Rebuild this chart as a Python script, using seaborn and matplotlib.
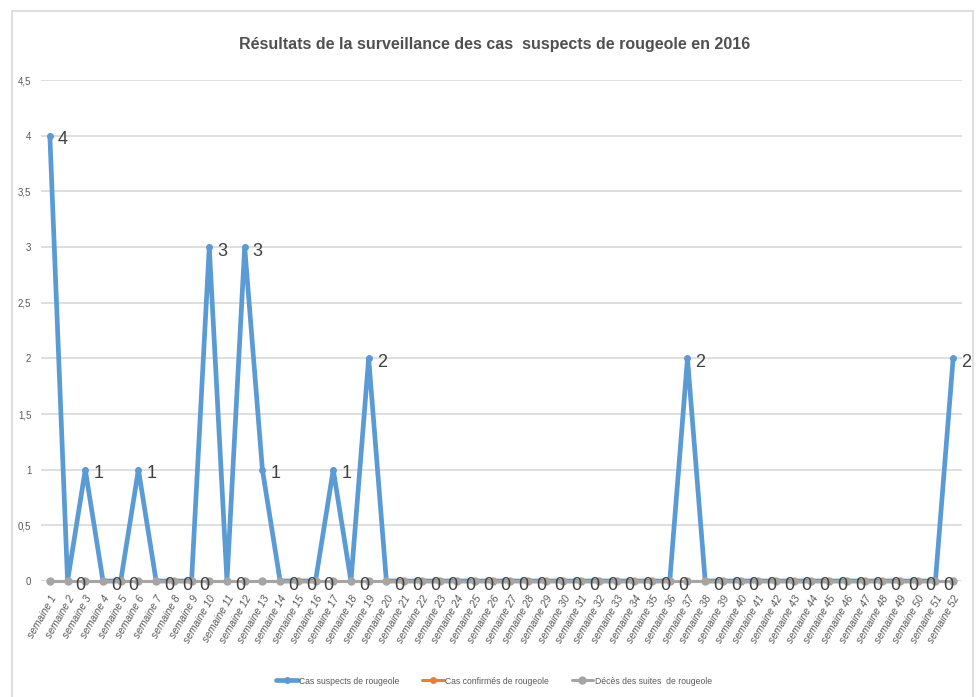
import pandas as pd
import matplotlib
matplotlib.use('Agg')
import matplotlib.pyplot as plt
from matplotlib.patches import Rectangle
import seaborn as sns

# Data (weekly counts, 2016)
semaines = [f"semaine {i}" for i in range(1, 53)]
cas_suspects = [4, 0, 1, 0, 0, 1, 0, 0, 0, 3,
                0, 3, 1, 0, 0, 0, 1, 0, 2, 0,
                0, 0, 0, 0, 0, 0, 0, 0, 0, 0,
                0, 0, 0, 0, 0, 0, 2, 0, 0, 0,
                0, 0, 0, 0, 0, 0, 0, 0, 0, 0,
                0, 2]
cas_confirmes = [0] * 52
deces = [0] * 52
series_names = ["Cas suspects de rougeole", "Cas confirmés de rougeole",
                "Décès des suites  de rougeole"]
y_ticks = [0, 0.5, 1, 1.5, 2, 2.5, 3, 3.5, 4, 4.5]

colors = {series_names[0]: "#5B9BD5", series_names[1]: "#ED7D31",
          series_names[2]: "#A5A5A5"}

sns.set_style("white")
plt.rcParams['font.family'] = ['Liberation Sans', 'DejaVu Sans']

df = pd.DataFrame({
    'x': list(range(52)) * 3,
    'valeur': cas_suspects + cas_confirmes + deces,
    'serie': [series_names[0]] * 52 + [series_names[1]] * 52 + [series_names[2]] * 52,
})

fig = plt.figure(figsize=(9.79, 6.97), dpi=100)
ax = fig.add_axes([41 / 979, 1 - 581 / 697, 921 / 979, 501 / 697])

# outer chart border
fig.patches.append(Rectangle((12 / 979, -0.05), 961 / 979, 1.05 - 11 / 697,
                             transform=fig.transFigure, fill=False,
                             edgecolor="#D9D9D9", linewidth=1.2))

widths = {series_names[0]: 3.4, series_names[1]: 2.2, series_names[2]: 2.2}
msize = {series_names[0]: 5, series_names[1]: 5, series_names[2]: 6}
for name in series_names:
    sub = df[df['serie'] == name]
    sns.lineplot(data=sub, x='x', y='valeur', color=colors[name], marker='o',
                 markersize=msize[name], markeredgewidth=0, linewidth=widths[name],
                 label=name, ax=ax, clip_on=False, zorder=3)

# data labels for the suspected cases
for i, v in enumerate(cas_suspects):
    ax.annotate(str(v), (i, v), xytext=(8, -4), textcoords='offset pixels',
                ha='left', va='center', fontsize=13, color="#404040",
                annotation_clip=False, zorder=5)

ax.set_xlim(-0.5, 51.5)
ax.set_ylim(0, 4.5)
ax.set_yticks(y_ticks)
ax.set_yticklabels([f"{v:g}".replace('.', ',') for v in y_ticks],
                   fontsize=7, color="#595959")
ax.set_xticks(range(52))
ax.set_xticklabels(semaines, rotation=60, ha='right', rotation_mode='anchor',
                   fontsize=7.5, color="#595959", style='italic')
ax.tick_params(axis='x', length=0, pad=9)
ax.tick_params(axis='y', length=0, pad=7)
ax.yaxis.grid(True, color="#D9D9D9", linewidth=1.2, zorder=0)
ax.set_axisbelow(True)
for s in ax.spines.values():
    s.set_visible(False)
ax.set_xlabel("")
ax.set_ylabel("")

fig.text(0.505, 1 - 45 / 697,
         "Résultats de la surveillance des cas  suspects de rougeole en 2016",
         ha='center', va='center', fontsize=11.5, fontweight='bold', color="#505050")

ax.legend(loc='center', ncol=3, frameon=False, fontsize=6.2, handlelength=2.5,
          handletextpad=0.2, columnspacing=2.6, labelcolor="#595959")
leg = ax.get_legend()
leg.set_bbox_to_anchor((494 / 979, 1 - 681 / 697), transform=fig.transFigure)

fig.savefig("out.png", dpi=100, facecolor="white")
